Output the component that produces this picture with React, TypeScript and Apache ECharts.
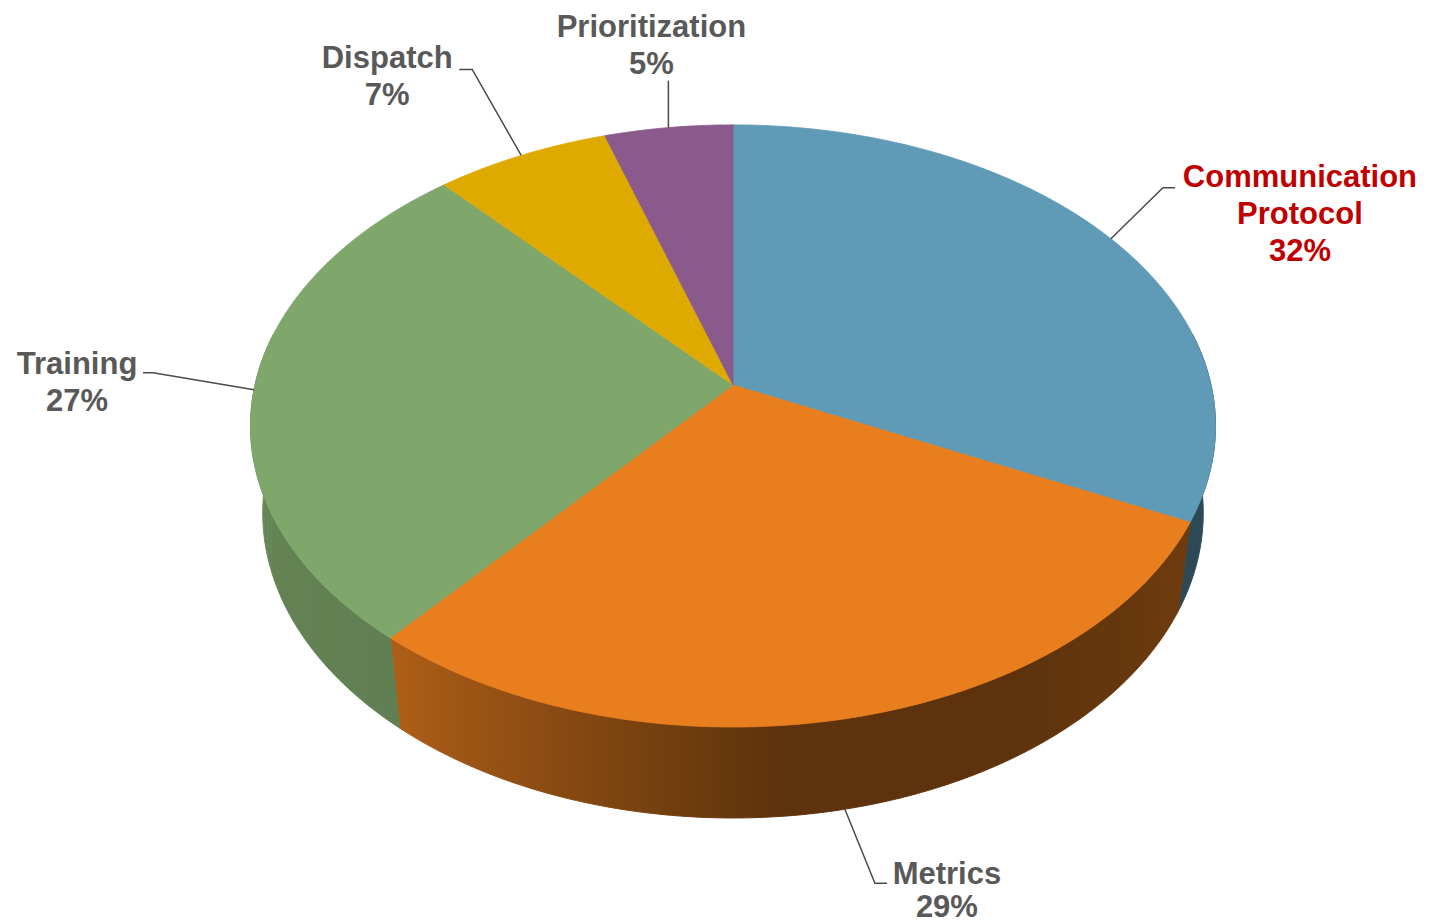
import React, { useEffect, useRef } from 'react';
import * as echarts from 'echarts';

// ---- data (shares estimated from the slice boundaries; labels show them rounded) ----
const categories = ['Communication Protocol', 'Metrics', 'Training', 'Dispatch', 'Prioritization'];
const labelNames = ['Communication\nProtocol', 'Metrics', 'Training', 'Dispatch', 'Prioritization'];
const values = [32.2, 28.9, 27.3, 6.7, 4.9];

// ---- styles ----
const sliceColors = ['#5f9bb6', '#e87e1e', '#7fa76c', '#dfaa00', '#8b5a8c'];
const labelColors = ['#c00000', '#595959', '#595959', '#595959', '#595959'];

// label placement relative to the slice anchor point (elbow offset, tail length, text centre offset, line height)
const labelLayout = [
  { ex: 52, ey: -51, tail: 12, tx: 189, ty: -25, lh: 37 },
  { ex: 30, ey: 74, tail: 12, tx: 102, ty: 81, lh: 33 },
  { ex: -101, ey: -17, tail: -10, tx: -177, ty: -8, lh: 37 },
  { ex: -49, ey: -86, tail: -13, tx: -134, ty: -79, lh: 37 },
  { ex: 0, ey: -47, tail: 0, tx: -17, ty: -83, lh: 37 },
];

// perspective pie geometry (reference frame 1429 x 924)
const PIE = { cx: 733, cy: 385, r: 478, dist: 5.78, sinA: 0.6182, cosA: 0.786, thick: 0.2386 };
// wall lighting factor by angle (deg, clockwise from back)
const SHADE: [number, number][] = [[0, 0.48], [120, 0.47], [150, 0.4], [175, 0.4], [220, 0.76], [280, 0.82], [360, 0.82]];

const total = values.reduce((a, b) => a + b, 0);
const starts: number[] = [];
{
  let acc = 0;
  values.forEach((v) => { starts.push(acc); acc += v; });
}

function shadeFactor(phi: number) {
  for (let i = 1; i < SHADE.length; i++) {
    if (phi <= SHADE[i][0]) {
      const [p0, f0] = SHADE[i - 1];
      const [p1, f1] = SHADE[i];
      return f0 + (f1 - f0) * (phi - p0) / (p1 - p0);
    }
  }
  return SHADE[SHADE.length - 1][1];
}

function shade(hex: string, f: number) {
  const n = parseInt(hex.slice(1), 16);
  const r = Math.round(((n >> 16) & 255) * f);
  const g = Math.round(((n >> 8) & 255) * f);
  const b = Math.round((n & 255) * f);
  return `rgb(${r},${g},${b})`;
}

export default function App() {
  const ref = useRef<HTMLDivElement>(null);
  useEffect(() => {
    const chart = echarts.init(ref.current!, null, { renderer: 'svg' });
    const renderItem = (params: any, api: any) => {
      const W = api.getWidth();
      const Hh = api.getHeight();
      const sx = W / 1429;
      const sy = Hh / 924;
      const project = (phiDeg: number, bottom: boolean): number[] => {
        const p = (phiDeg * Math.PI) / 180;
        const u = Math.sin(p);
        const v = Math.cos(p);
        const Y = bottom ? -PIE.thick : 0;
        const depth = PIE.dist - Y * PIE.sinA + v * PIE.cosA;
        const up = Y * PIE.cosA + v * PIE.sinA;
        const F = PIE.r * PIE.dist;
        return [(PIE.cx + (F * u) / depth) * sx, (PIE.cy - (F * up) / depth) * sy];
      };
      const i = params.dataIndex;
      let val = api.value(0);
      if (!(val >= 0)) val = values[i];
      const a0 = (starts[i] / total) * 360;
      const a1 = ((starts[i] + val) / total) * 360;
      const base = sliceColors[i];
      const children: any[] = [];

      // outer wall
      const w0 = Math.max(a0, 80);
      const w1 = Math.min(a1, 280);
      if (w1 > w0) {
        const n = Math.max(2, Math.ceil((w1 - w0) / 0.5));
        const top: number[][] = [];
        const bot: number[][] = [];
        const phis: number[] = [];
        for (let k = 0; k <= n; k++) {
          const phi = w0 + ((w1 - w0) * k) / n;
          phis.push(phi);
          top.push(project(phi, false));
          bot.push(project(phi, true));
        }
        const xs = top.map((p) => p[0]).concat(bot.map((p) => p[0]));
        const xmin = Math.min(...xs);
        const xmax = Math.max(...xs);
        const stops: { offset: number; color: string }[] = [];
        const step = Math.max(1, Math.floor(n / 40));
        for (let k = 0; k <= n; k += step) {
          const off = (top[k][0] - xmin) / Math.max(1, xmax - xmin);
          stops.push({ offset: Math.min(1, Math.max(0, off)), color: shade(base, shadeFactor(phis[k])) });
        }
        stops.sort((a, b) => a.offset - b.offset);
        const fill = new echarts.graphic.LinearGradient(xmin, 0, xmax, 0, stops, true);
        children.push({
          type: 'polygon',
          z2: 1,
          shape: { points: top.concat(bot.slice().reverse()) },
          style: { fill, stroke: fill, lineWidth: 1 },
        });
      }

      // top face
      const n2 = Math.max(2, Math.ceil((a1 - a0) / 0.5));
      const pts: number[][] = [[PIE.cx * sx, PIE.cy * sy]];
      for (let k = 0; k <= n2; k++) pts.push(project(a0 + ((a1 - a0) * k) / n2, false));
      children.push({
        type: 'polygon',
        z2: 2,
        shape: { points: pts },
        style: { fill: base, stroke: base, lineWidth: 0.8 },
      });

      // label with leader line
      const mid = (a0 + a1) / 2;
      const onFront = Math.cos((mid * Math.PI) / 180) < -0.5;
      const anchor = project(mid, onFront);
      const L = labelLayout[i];
      const elbow = [anchor[0] + L.ex * sx, anchor[1] + L.ey * sy];
      const tailEnd = [elbow[0] + L.tail * sx, elbow[1]];
      children.push({
        type: 'polyline',
        z2: 3,
        shape: { points: [anchor, elbow, tailEnd] },
        style: { stroke: '#4a4a4a', lineWidth: 1.5, fill: null },
      });
      const pct = Math.round((val / total) * 100) + '%';
      children.push({
        type: 'text',
        z2: 4,
        x: anchor[0] + L.tx * sx,
        y: anchor[1] + L.ty * sy,
        style: {
          text: labelNames[i] + '\n' + pct,
          fill: labelColors[i],
          fontSize: 31,
          fontWeight: 'bold',
          fontFamily: '"Liberation Sans", Arial, sans-serif',
          align: 'center',
          verticalAlign: 'middle',
          lineHeight: L.lh,
        },
      });
      return { type: 'group', children };
    };

    chart.setOption({
      animation: false,
      backgroundColor: '#ffffff',
      series: [
        {
          type: 'custom',
          coordinateSystem: 'none',
          silent: true,
          renderItem,
          data: values.map((v, i) => ({ name: categories[i], value: [v] })),
        },
      ],
    });
    return () => chart.dispose();
  }, []);
  return <div ref={ref} style={{ position: 'absolute', left: 0, top: 0, width: 1429, height: 924 }} />;
}
